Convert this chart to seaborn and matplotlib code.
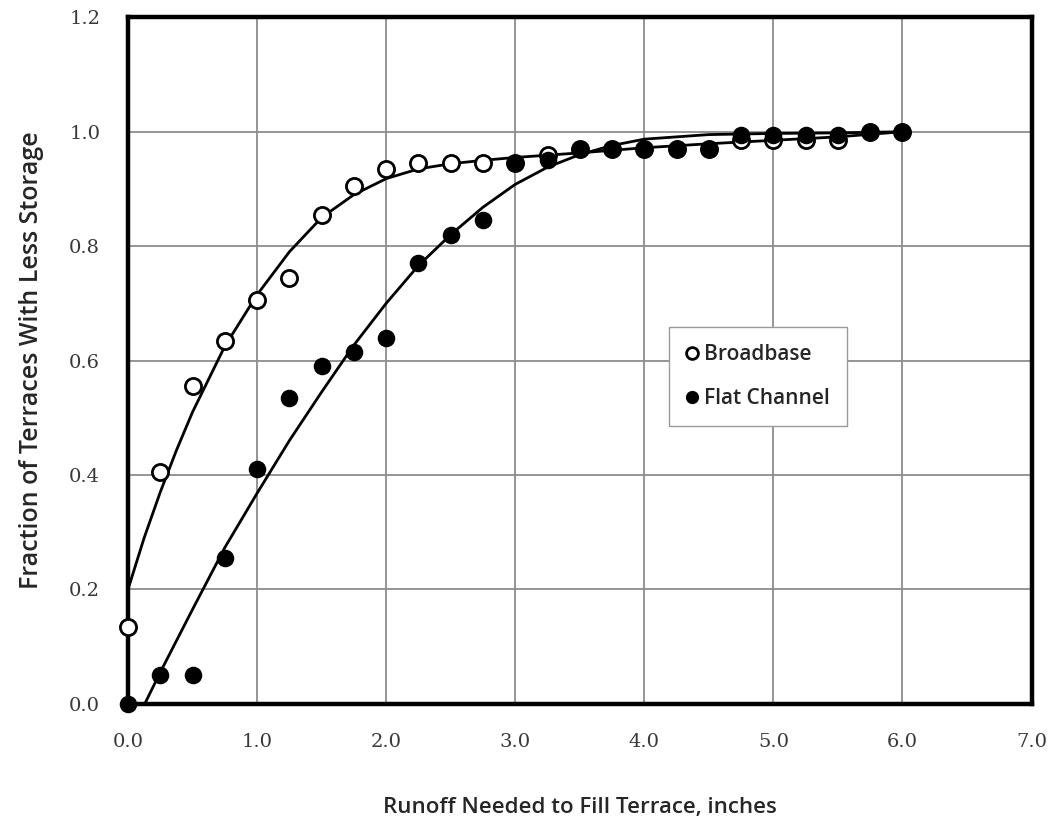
import matplotlib
matplotlib.use("Agg")
import matplotlib.pyplot as plt
from matplotlib.lines import Line2D
from matplotlib.ticker import MultipleLocator
import seaborn as sns
import pandas as pd

# measured points
runoff = [0.0, 0.25, 0.5, 0.75, 1.0, 1.25, 1.5, 1.75, 2.0, 2.25, 2.5, 2.75,
          3.0, 3.25, 3.5, 3.75, 4.0, 4.25, 4.5, 4.75, 5.0, 5.25, 5.5, 5.75, 6.0]
broadbase = [0.135, 0.405, 0.555, 0.635, 0.705, 0.745, 0.855, 0.905, 0.935, 0.945,
             0.945, 0.945, 0.945, 0.96, 0.97, 0.97, 0.97, 0.97, 0.97, 0.985,
             0.985, 0.985, 0.985, 1.0, 1.0]
flat_channel = [0.0, 0.05, 0.05, 0.255, 0.41, 0.535, 0.59, 0.615, 0.64, 0.77,
                0.82, 0.845, 0.945, 0.95, 0.97, 0.97, 0.97, 0.97, 0.97, 0.995,
                0.995, 0.995, 0.995, 1.0, 1.0]

# fitted curves
bb_fit_x = [0.0, 0.125, 0.25, 0.375, 0.5, 0.75, 1.0, 1.25, 1.5, 1.75, 2.0, 2.25,
            2.5, 2.75, 3.0, 3.5, 4.0, 4.5, 5.0, 5.5, 6.0]
bb_fit_y = [0.20, 0.29, 0.37, 0.443, 0.51, 0.625, 0.715, 0.79, 0.85, 0.89, 0.918,
            0.935, 0.944, 0.95, 0.955, 0.963, 0.972, 0.979, 0.985, 0.991, 1.0]
fc_fit_x = [0.13, 0.25, 0.5, 0.75, 1.0, 1.25, 1.5, 1.75, 2.0, 2.25, 2.5, 2.75,
            3.0, 3.25, 3.5, 3.75, 4.0, 4.5, 5.0, 5.5, 6.0]
fc_fit_y = [0.0, 0.055, 0.165, 0.273, 0.368, 0.46, 0.545, 0.627, 0.70, 0.766,
            0.82, 0.868, 0.908, 0.938, 0.96, 0.976, 0.987, 0.995, 0.997, 0.998, 1.0]

x_ticks = [0, 1, 2, 3, 4, 5, 6, 7]
y_ticks = [0.0, 0.2, 0.4, 0.6, 0.8, 1.0, 1.2]

pts = pd.DataFrame({"x": runoff, "bb": broadbase, "fc": flat_channel})

sns.set_style("white")
plt.rcParams["font.family"] = ["DejaVu Sans"]

fig = plt.figure(figsize=(10.58, 8.25), dpi=100)
ax = fig.add_axes([0.121, 0.147, 0.854, 0.832])

sns.lineplot(x=bb_fit_x, y=bb_fit_y, ax=ax, color="black", lw=2, zorder=3)
sns.lineplot(x=fc_fit_x, y=fc_fit_y, ax=ax, color="black", lw=2, zorder=3)
sns.scatterplot(data=pts, x="x", y="bb", ax=ax, marker="o", s=135,
                facecolor="white", edgecolor="black", linewidth=2,
                zorder=4, clip_on=False)
sns.scatterplot(data=pts, x="x", y="fc", ax=ax, marker="o", s=135,
                color="black", edgecolor="black", linewidth=1,
                zorder=5, clip_on=False)

ax.set_xlim(0, 7)
ax.set_ylim(0, 1.2)
ax.set_xticks(x_ticks)
ax.set_yticks(y_ticks)
ax.xaxis.set_minor_locator(MultipleLocator(0.2))
ax.yaxis.set_minor_locator(MultipleLocator(0.05))
ax.grid(True, which="major", color="#8c8c8c", lw=1.3)
ax.set_axisbelow(True)
for s in ax.spines.values():
    s.set_linewidth(3.2)
    s.set_color("black")
    s.set_zorder(2.5)

ax.tick_params(which="both", direction="in", color="black", width=1.3)
ax.tick_params(which="major", length=9)
ax.tick_params(which="minor", length=6)
ax.tick_params(axis="x", pad=21)
ax.tick_params(axis="y", pad=20)
tick_font = dict(family="DejaVu Serif", fontsize=14, color="#383838")
ax.set_xticklabels([f"{v:.1f}" for v in x_ticks], **tick_font)
ax.set_yticklabels([f"{v:.1f}" for v in y_ticks], **tick_font)

lab = dict(family=["Open Sans", "DejaVu Sans"], fontweight="semibold")
ax.set_xlabel("Runoff Needed to Fill Terrace, inches", labelpad=33,
              fontsize=16, **lab)
ax.set_ylabel("Fraction of Terraces With Less Storage", labelpad=18,
              fontsize=18, **lab)

handles = [
    Line2D([], [], ls="none", marker="o", ms=8.5, mfc="white", mec="black", mew=2),
    Line2D([], [], ls="none", marker="o", ms=8.5, mfc="black", mec="black"),
]
leg = ax.legend(handles, ["Broadbase", "Flat Channel"], loc="lower left",
                bbox_to_anchor=(0.587, 0.39), frameon=True, fancybox=False,
                edgecolor="#999999", framealpha=1, handlelength=0.6,
                handletextpad=0.3, labelspacing=1.1, borderpad=0.8,
                prop={"family": ["Open Sans", "DejaVu Sans"], "size": 15,
                      "weight": "semibold"})
leg.get_frame().set_linewidth(1.0)
leg.set_zorder(6)

fig.savefig("out.png", dpi=100)
